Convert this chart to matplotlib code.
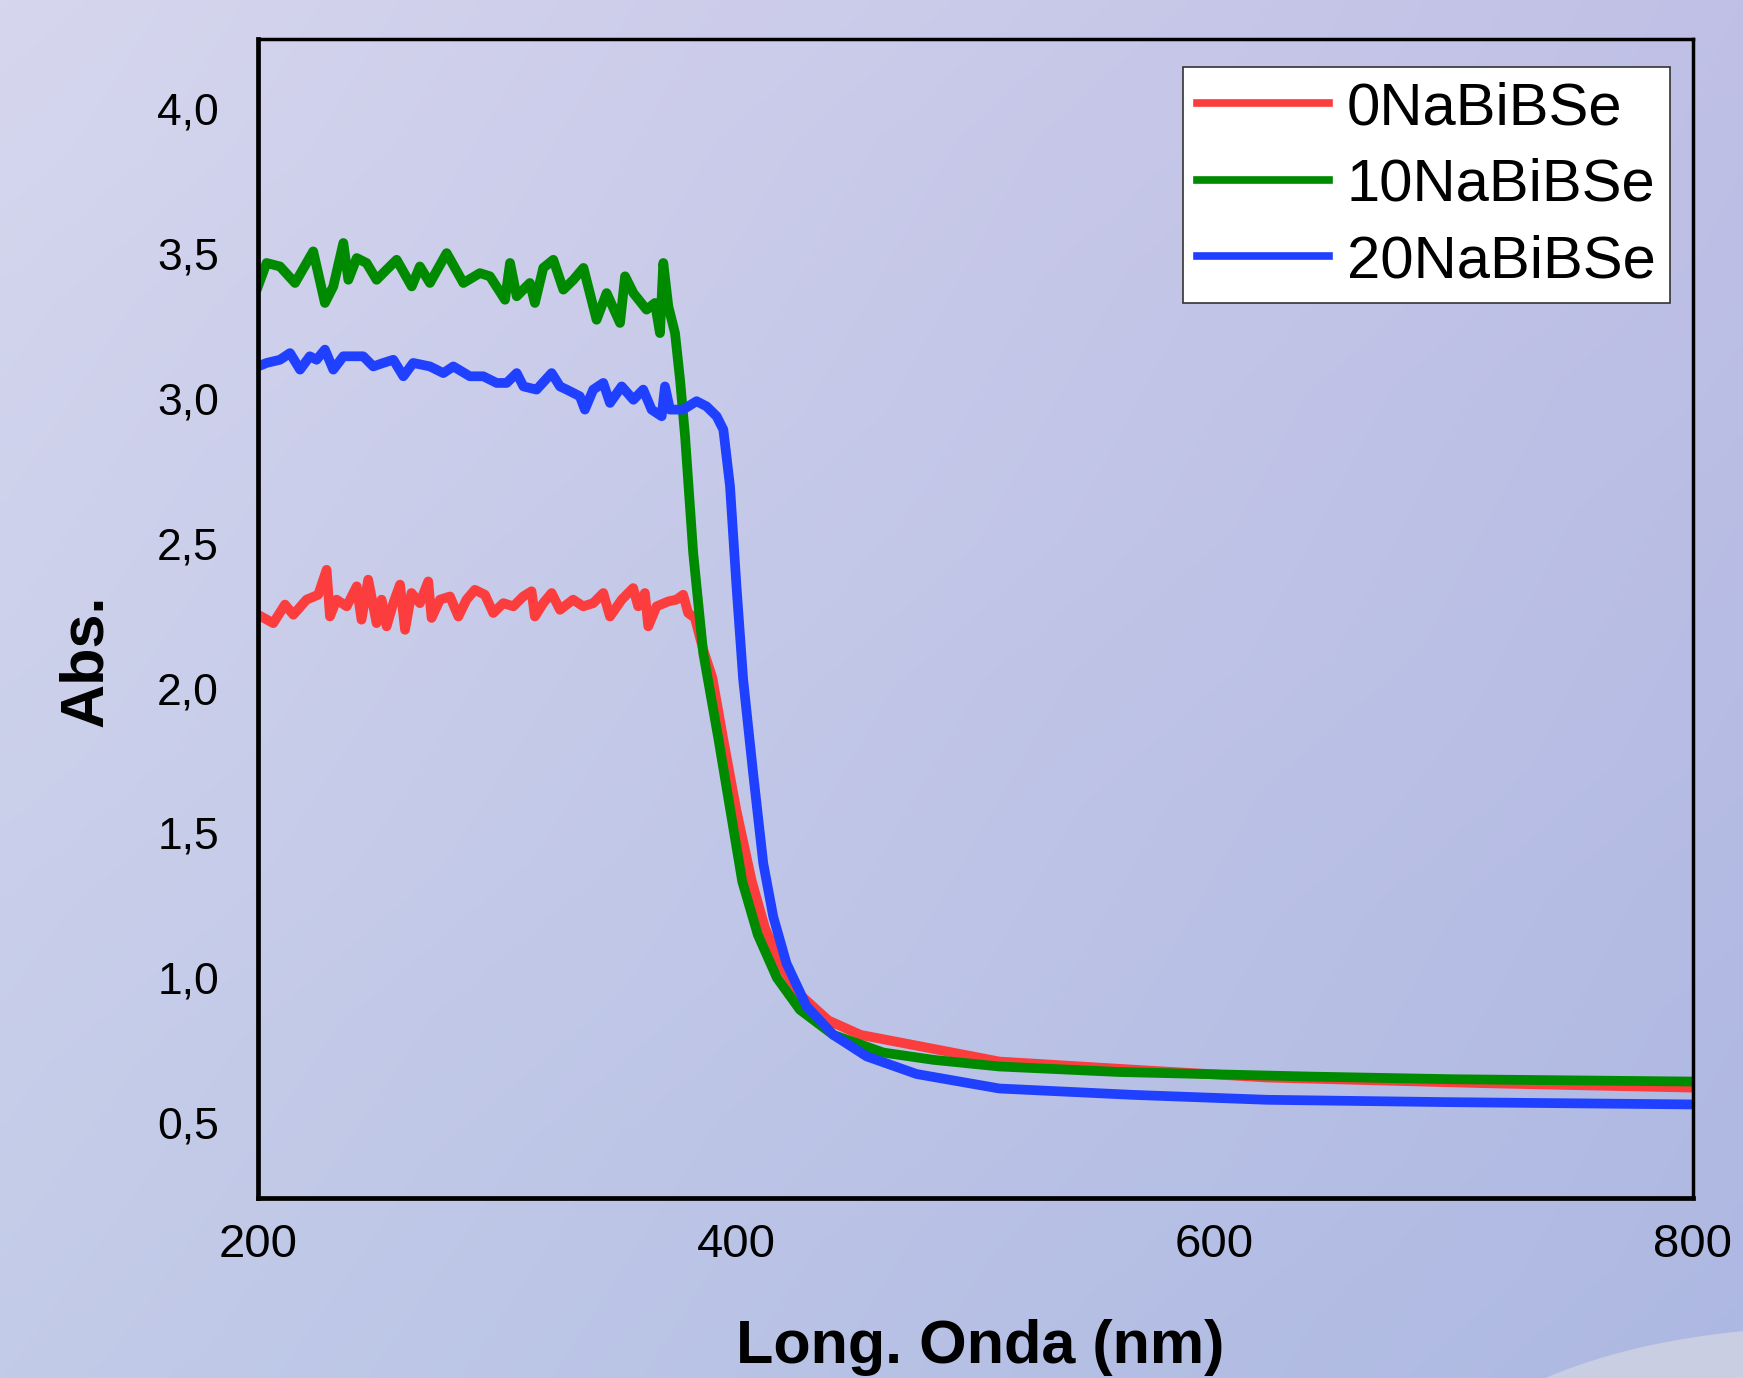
import numpy as np
import matplotlib
matplotlib.use("Agg")
import matplotlib.pyplot as plt
from matplotlib.patches import Ellipse

plt.rcParams['font.family'] = ['Liberation Sans', 'DejaVu Sans']

# --- data (wavelength in nm, absorbance) ---
wl_0 = [200.0, 206.4, 211.3, 214.8, 220.3, 225.2, 228.7, 230.1, 232.9, 237.1,
        241.3, 243.3, 246.1, 249.6, 251.7, 253.8, 256.6, 259.4, 261.5, 264.2,
        267.7, 271.2, 272.6, 276.1, 280.3, 283.8, 287.2, 290.7, 294.9, 298.4,
        302.6, 306.8, 310.9, 314.4, 315.8, 319.3, 322.8, 326.3, 331.8, 336.0,
        340.2, 344.4, 347.2, 352.1, 356.9, 359.0, 361.8, 363.2, 366.7, 371.6,
        375.0, 377.8, 379.9, 382.7, 386.2, 390.0, 394.5, 400.0, 406.5, 412.0,
        419.0, 427.0, 438.5, 452.0, 475.4, 510.0, 566.0, 622.0, 715.0, 800.0]
abs_0 = [2.253, 2.224, 2.288, 2.253, 2.305, 2.322, 2.408, 2.247, 2.305, 2.282,
         2.351, 2.236, 2.374, 2.224, 2.305, 2.213, 2.293, 2.357, 2.201, 2.328,
         2.293, 2.368, 2.242, 2.305, 2.316, 2.247, 2.305, 2.339, 2.322, 2.259,
         2.293, 2.282, 2.316, 2.334, 2.247, 2.293, 2.328, 2.270, 2.305, 2.282,
         2.293, 2.328, 2.247, 2.305, 2.345, 2.282, 2.328, 2.213, 2.282, 2.299,
         2.305, 2.322, 2.259, 2.242, 2.132, 2.036, 1.827, 1.580, 1.333, 1.173,
         1.037, 0.939, 0.853, 0.803, 0.766, 0.711, 0.683, 0.656, 0.636, 0.621]

wl_10 = [200.0, 203.6, 209.2, 215.5, 223.1, 228.0, 231.5, 235.7, 237.8, 241.3,
         245.4, 249.6, 253.8, 258.0, 264.3, 267.7, 271.9, 278.9, 285.9, 292.8,
         297.0, 303.3, 305.4, 308.2, 313.7, 315.8, 319.3, 323.5, 327.7, 331.9,
         336.1, 341.6, 345.8, 351.4, 353.5, 357.0, 362.5, 366.0, 368.1, 369.5,
         371.6, 374.4, 376.5, 378.6, 382.0, 386.2, 392.5, 397.5, 402.5, 409.0,
         417.0, 426.6, 440.6, 461.5, 482.4, 510.0, 560.0, 641.0, 700.0, 800.0]
abs_10 = [3.386, 3.467, 3.455, 3.398, 3.507, 3.329, 3.386, 3.536, 3.409, 3.484,
          3.467, 3.409, 3.444, 3.478, 3.386, 3.455, 3.398, 3.501, 3.398, 3.432,
          3.421, 3.340, 3.467, 3.352, 3.398, 3.329, 3.450, 3.478, 3.375, 3.409,
          3.450, 3.271, 3.363, 3.260, 3.421, 3.363, 3.306, 3.329, 3.225, 3.467,
          3.317, 3.225, 3.064, 2.869, 2.466, 2.121, 1.827, 1.580, 1.333, 1.149,
          1.000, 0.890, 0.803, 0.742, 0.717, 0.694, 0.675, 0.659, 0.650, 0.642]

wl_20 = [200.0, 203.6, 209.2, 213.4, 217.6, 221.7, 224.5, 228.0, 231.5, 235.7,
         239.9, 244.0, 248.2, 252.4, 256.6, 260.8, 264.9, 271.9, 277.5, 281.7,
         288.6, 294.2, 299.8, 304.0, 308.2, 311.0, 316.5, 322.8, 326.3, 329.1,
         334.6, 336.7, 340.2, 344.4, 347.2, 352.1, 357.0, 361.1, 364.6, 368.8,
         370.2, 372.3, 377.8, 383.4, 387.6, 391.8, 394.6, 397.4, 400.1, 402.9,
         407.1, 411.3, 415.5, 421.0, 429.4, 440.6, 454.5, 475.4, 510.0, 566.0,
         622.0, 697.0, 800.0]
abs_20 = [3.110, 3.122, 3.133, 3.156, 3.099, 3.145, 3.133, 3.168, 3.099, 3.145,
          3.145, 3.145, 3.110, 3.122, 3.133, 3.076, 3.122, 3.110, 3.087, 3.110,
          3.076, 3.076, 3.053, 3.053, 3.087, 3.041, 3.030, 3.087, 3.041, 3.030,
          3.007, 2.961, 3.030, 3.053, 2.984, 3.041, 2.995, 3.030, 2.961, 2.938,
          3.041, 2.961, 2.961, 2.990, 2.972, 2.938, 2.892, 2.696, 2.351, 2.029,
          1.703, 1.395, 1.210, 1.050, 0.902, 0.803, 0.729, 0.668, 0.618, 0.596,
          0.579, 0.571, 0.563]

labels = ['0NaBiBSe', '10NaBiBSe', '20NaBiBSe']
colors = ['#fb3d3d', '#008a00', '#2040ff']

x_ticks = [200, 400, 600, 800]
y_ticks = [0.5, 1.0, 1.5, 2.0, 2.5, 3.0, 3.5, 4.0]
y_tick_labels = ['0,5', '1,0', '1,5', '2,0', '2,5', '3,0', '3,5', '4,0']

fig = plt.figure(figsize=(17.43, 13.78), dpi=100)

# background gradient (slide-like)
bg = fig.add_axes([0, 0, 1, 1], zorder=-1)
tl = np.array([214, 214, 238]) / 255
tr = np.array([192, 192, 230]) / 255
bl = np.array([194, 203, 232]) / 255
br = np.array([173, 184, 226]) / 255
u = np.linspace(0, 1, 200)[None, :, None]
v = np.linspace(0, 1, 200)[:, None, None]
grad = (1 - v) * ((1 - u) * tl + u * tr) + v * ((1 - u) * bl + u * br)
bg.imshow(grad, aspect='auto', extent=[0, 1, 0, 1], interpolation='bilinear')
bg.add_patch(Ellipse((1.05, -0.088), 0.46, 0.25, facecolor='#cdd1e2',
                     edgecolor='none', alpha=0.9))
bg.set_xlim(0, 1)
bg.set_ylim(0, 1)
bg.axis('off')

ax = fig.add_axes([0.148, 0.1306, 0.8232, 0.8411])
ax.set_facecolor('none')

series = [(wl_0, abs_0), (wl_10, abs_10), (wl_20, abs_20)]
for (wl, ab), lab, c in zip(series, labels, colors):
    ax.plot(wl, ab, color=c, lw=7, label=lab, solid_joinstyle='round')

ax.set_xlim(200, 800)
ax.set_ylim(0.24, 4.24)
ax.set_xticks(x_ticks)
ax.set_xticklabels([str(t) for t in x_ticks])
ax.set_yticks(y_ticks)
ax.set_yticklabels(y_tick_labels)
ax.tick_params(axis='x', length=0, pad=18, labelsize=34)
ax.tick_params(axis='y', length=0, pad=28, labelsize=32)

for side in ['top', 'right']:
    ax.spines[side].set_linewidth(2.5)
for side in ['left', 'bottom']:
    ax.spines[side].set_linewidth(3.4)

fig.text(0.5623, 0.0109, 'Long. Onda (nm)', fontsize=44, fontweight='bold',
         ha='center', va='baseline')
fig.text(0.0499, 0.5203, 'Abs.', fontsize=44, fontweight='bold',
         rotation=90, ha='center', va='center')

leg = ax.legend(loc='upper right', bbox_to_anchor=(0.984, 0.976),
                borderaxespad=0, fontsize=43, handlelength=2.2,
                handletextpad=0.3, labelspacing=0.36, borderpad=0.24,
                fancybox=False, framealpha=1, edgecolor='#333333')
leg.get_frame().set_linewidth(1.2)
for line in leg.get_lines():
    line.set_linewidth(5.5)

fig.savefig('out.png', dpi=100)
